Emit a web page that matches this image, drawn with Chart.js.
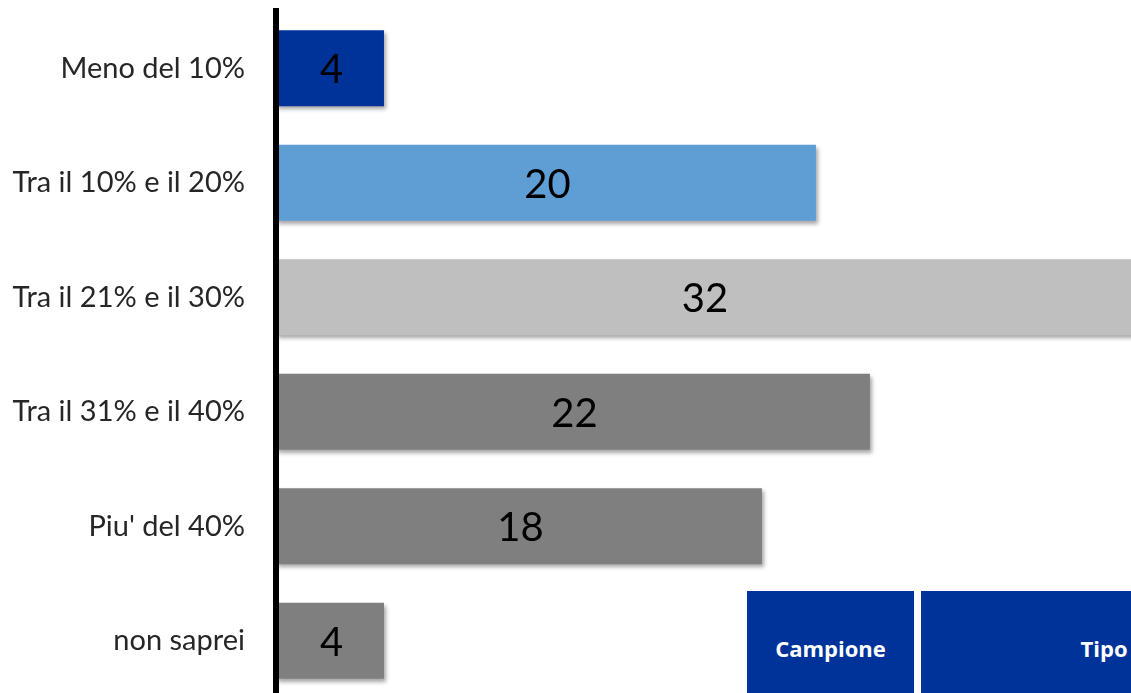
<!DOCTYPE html>
<html>
<head>
<meta charset="utf-8">
<script src="https://cdn.jsdelivr.net/npm/chart.js@4"></script>
<style>
  html, body { margin: 0; padding: 0; background: #fff; overflow: hidden; width: 1131px; height: 693px; }
  #wrap { position: relative; width: 1131px; height: 700px; }
  .box { position: absolute; top: 591px; height: 114px; background: #003399; color: #fff;
         font: bold 22px "Open Sans", sans-serif; display: flex; align-items: center; justify-content: center; }
</style>
</head>
<body>
<div id="wrap">
  <canvas id="chart-bar" width="1131" height="700"></canvas>
  <div class="box" style="left:747px;width:167px;">Campione</div>
  <div class="box" style="left:921px;width:366px;">Tipo</div>
</div>
<script>
var categories = ["Meno del 10%", "Tra il 10% e il 20%", "Tra il 21% e il 30%", "Tra il 31% e il 40%", "Piu' del 40%", "non saprei"];
var values = [4, 20, 32, 22, 18, 4];
var barColors = ["#003399", "#5F9ED4", "#BFBFBF", "#7F7F7F", "#7F7F7F", "#7F7F7F"];

// shadow under the bars + value labels in the middle
var barExtras = {
  id: "barExtras",
  beforeDatasetsDraw: function(chart) {
    var ctx = chart.ctx;
    ctx.save();
    ctx.shadowColor = "rgba(0,0,0,0.35)";
    ctx.shadowBlur = 4;
    ctx.shadowOffsetX = 2;
    ctx.shadowOffsetY = 3;
  },
  afterDatasetsDraw: function(chart) {
    var ctx = chart.ctx;
    ctx.restore();
    ctx.save();
    ctx.font = "40px Lato, sans-serif";
    ctx.fillStyle = "#000";
    ctx.textAlign = "center";
    ctx.textBaseline = "middle";
    chart.getDatasetMeta(0).data.forEach(function(bar, i) {
      var right = Math.min(bar.x, chart.chartArea.right);
      ctx.fillText(values[i], (bar.base + 3 + right) / 2, bar.y + 2);
    });
    ctx.restore();
  }
};

new Chart(document.getElementById("chart-bar"), {
  type: "bar",
  data: {
    labels: categories,
    datasets: [{
      data: values,
      backgroundColor: barColors,
      borderWidth: 0,
      barPercentage: 0.664,
      categoryPercentage: 1
    }]
  },
  options: {
    indexAxis: "y",
    responsive: false,
    animation: false,
    events: [],
    layout: { padding: { top: 11, bottom: 2 } },
    plugins: { legend: { display: false }, tooltip: { enabled: false } },
    scales: {
      x: { display: false, min: 0, max: 31.67 },
      y: {
        afterFit: function(scale) {
          scale.width = 276;
          scale.paddingTop = 0;
          scale.paddingBottom = 0;
        },
        grid: { drawOnChartArea: false, drawTicks: true, tickLength: 31, tickColor: "rgba(0,0,0,0)" },
        border: { display: true, color: "#000", width: 6, z: 1 },
        ticks: {
          padding: 0,
          color: "#262626",
          font: { family: "Lato, sans-serif", size: 29 }
        }
      }
    }
  },
  plugins: [barExtras]
});
</script>
</body>
</html>
